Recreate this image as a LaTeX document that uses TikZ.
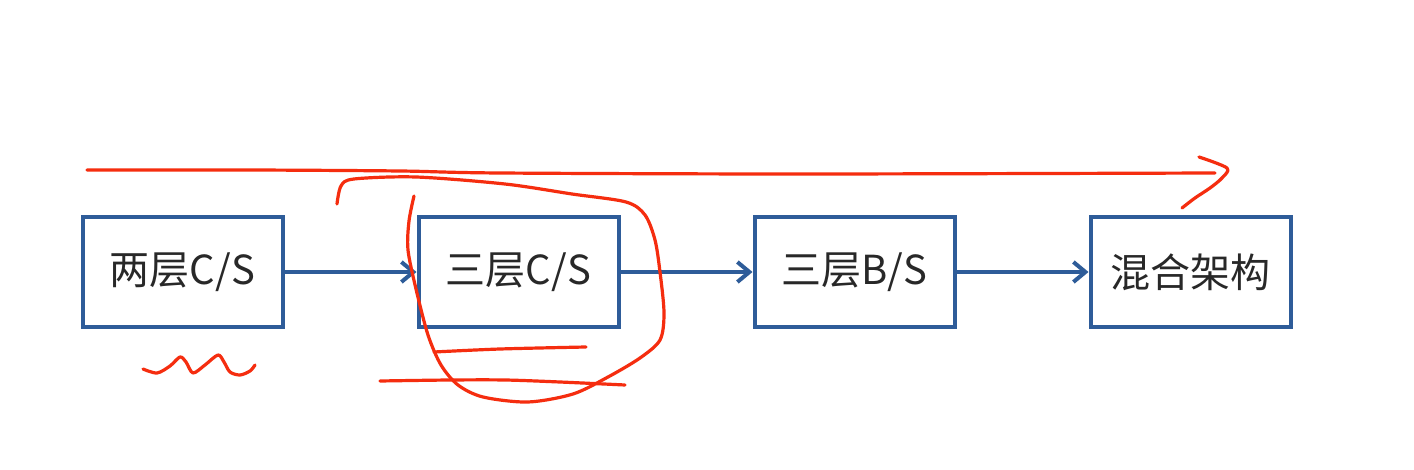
\documentclass[tikz,border=0pt]{standalone}
\usepackage{fontspec}
\newfontfamily\cjk{Noto Sans CJK SC}
\usetikzlibrary{positioning, arrows.meta}
\definecolor{boxblue}{RGB}{46,92,153}
\definecolor{penred}{RGB}{245,45,15}
\definecolor{ink}{RGB}{40,40,40}

\begin{document}
\begin{tikzpicture}[
    x=0.5pt, y=-0.5pt,
    stage/.style={draw=boxblue, line width=2pt, minimum width=100pt, minimum height=55pt,
      inner sep=0pt, text=ink, font=\cjk\fontsize{20}{24}\selectfont},
    flow/.style={draw=boxblue, line width=2pt, -{Straight Barb[length=6pt, width=10pt]}},
    pen/.style={draw=penred, line width=1.6pt, line cap=round, line join=round}
  ]
  \useasboundingbox[fill=white] (0,0) rectangle (1414,470);

  % the four stages
  \node[stage] (two) at (182.5,272) {两层C/S};
  \node[stage, right=66pt of two] (three) {三层C/S};
  \node[stage, right=66pt of three] (bs) {三层B/S};
  \node[stage, right=66pt of bs] (mix) {混合架构};

  \draw[flow] (two) -- (three);
  \draw[flow] (three) -- (bs);
  \draw[flow] (bs) -- (mix);

  % hand marks
  \draw[pen] plot[smooth] coordinates {(87,170) (250,170) (400,171) (500,173) (800,174) (1215,173)};
  \draw[pen] plot[smooth] coordinates {(1199,157) (1227,168) (1222,178) (1210,188) (1195,198) (1182,208)};
  \draw[pen] plot[smooth] coordinates {(337,204) (341,186) (354,179) (416,177) (505,184) (572,194)
    (626,202) (645,215) (655,240) (660,272) (664,313) (660,340) (640,358) (608,377) (573,394)
    (528,402) (483,397) (458,385) (441,365) (428,335) (416,289) (408,250) (409,221) (414,196)};
  \draw[pen] plot[smooth] coordinates {(434,352) (500,349) (586,347)};
  \draw[pen] plot[smooth] coordinates {(380,381) (450,380) (505,380) (560,382) (625,385)};
  \draw[pen] plot[smooth] coordinates {(143,369) (157,373) (170,366) (180,357) (186,362) (193,373)
    (205,365) (218,355) (224,362) (230,372) (240,375) (250,371) (255,365)};
\end{tikzpicture}
\end{document}
